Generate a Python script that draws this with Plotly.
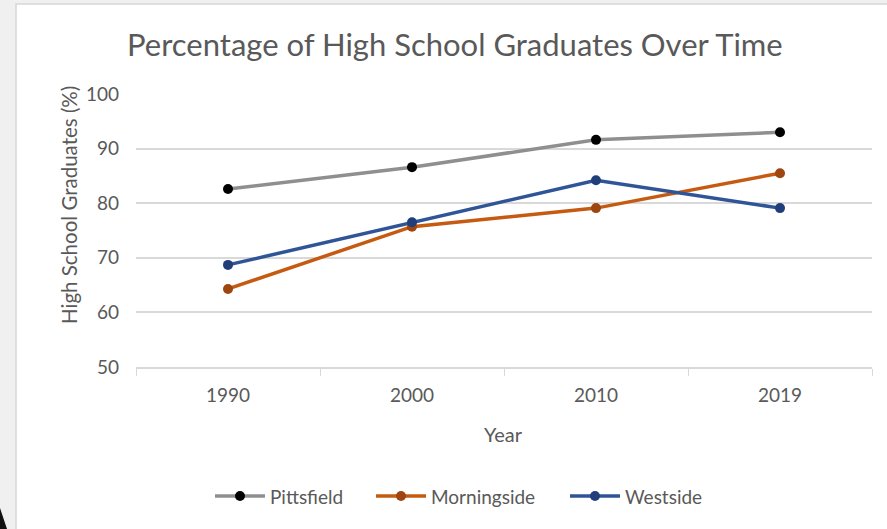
import plotly.graph_objects as go

# Data
years = ["1990", "2000", "2010", "2019"]
pittsfield = [82.6, 86.6, 91.6, 93.0]
morningside = [64.3, 75.7, 79.1, 85.5]
westside = [68.7, 76.5, 84.2, 79.1]

series = [
    ("Pittsfield", pittsfield, "#8f8f8f", "#000000"),
    ("Morningside", morningside, "#c55a11", "#9e4510"),
    ("Westside", westside, "#2f5597", "#203f7a"),
]

W, H = 887, 529
L, R, T, B = 136, 872, 94, 367  # plot area in pixels


def px(x):
    return (x - L) / (R - L)


def py(y):
    return (B - y) / (B - T)


TEXT = "#595959"
FONT = "Lato"

fig = go.Figure()
for name, vals, line_c, mark_c in series:
    fig.add_trace(go.Scatter(
        x=years, y=vals, name=name, mode="lines+markers",
        line=dict(color=line_c, width=3.5),
        marker=dict(color=mark_c, size=10, line=dict(width=0)),
        showlegend=False,
    ))

shapes = [
    # white chart frame over the grey page
    dict(type="rect", xref="paper", yref="paper", layer="below",
         x0=px(16), x1=px(W + 5), y0=py(H + 5), y1=py(4),
         fillcolor="white", line=dict(color="#d6d6d6", width=1.5)),
    # dark corner wedge at the bottom-left
    dict(type="path", xref="paper", yref="paper", layer="above",
         path=f"M {px(0)},{py(H)} L {px(0)},{py(508)} L {px(7)},{py(H)} Z",
         fillcolor="#111111", line=dict(width=0)),
]

annotations = [
    dict(text="Percentage of High School Graduates Over Time", xref="paper", yref="paper",
         x=px(455), y=py(44), showarrow=False, xanchor="center", yanchor="middle",
         font=dict(family=FONT, size=31, color=TEXT)),
    dict(text="High School Graduates (%)", xref="paper", yref="paper",
         x=px(69), y=py(205), showarrow=False, textangle=-90,
         xanchor="center", yanchor="middle",
         font=dict(family=FONT, size=20.5, color=TEXT)),
    dict(text="Year", xref="paper", yref="paper",
         x=px(503), y=py(434), showarrow=False, xanchor="center", yanchor="middle",
         font=dict(family=FONT, size=20, color=TEXT)),
]

# Legend along the bottom: line sample, marker dot and series name
LEG_Y = 496
leg_starts = [215, 376, 570]
for (name, _, line_c, mark_c), x0 in zip(series, leg_starts):
    shapes.append(dict(type="line", xref="paper", yref="paper",
                       x0=px(x0), x1=px(x0 + 50), y0=py(LEG_Y), y1=py(LEG_Y),
                       line=dict(color=line_c, width=3.5)))
    shapes.append(dict(type="circle", xref="paper", yref="paper",
                       x0=px(x0 + 20), x1=px(x0 + 30), y0=py(LEG_Y - 5), y1=py(LEG_Y + 5),
                       fillcolor=mark_c, line=dict(width=0)))
    annotations.append(dict(text=name, xref="paper", yref="paper",
                            x=px(x0 + 53), y=py(LEG_Y), showarrow=False,
                            xanchor="left", yanchor="middle",
                            font=dict(family=FONT, size=19, color=TEXT)))

fig.update_layout(
    width=W, height=H,
    margin=dict(l=L, r=W - R, t=T, b=H - B, pad=0),
    paper_bgcolor="#f0f0f0",
    plot_bgcolor="rgba(0,0,0,0)",
    font=dict(family=FONT, size=19, color=TEXT),
    shapes=shapes,
    annotations=annotations,
    showlegend=False,
    xaxis=dict(type="category", range=[-0.5, 3.5], showgrid=False,
               showline=True, linecolor="#d9d9d9", linewidth=1.5,
               ticks="outside", tickson="boundaries", ticklen=7, tickcolor="#d9d9d9",
               tickfont=dict(family=FONT, size=19, color=TEXT), ticklabelstandoff=10,
               fixedrange=True),
    yaxis=dict(range=[50, 100], dtick=10, tick0=50, showgrid=True, gridcolor="#d9d9d9",
               gridwidth=1.5, zeroline=False, showline=False, ticks="",
               tickfont=dict(family=FONT, size=19, color=TEXT), ticklabelstandoff=16,
               fixedrange=True),
)

fig.write_html("out.html")
